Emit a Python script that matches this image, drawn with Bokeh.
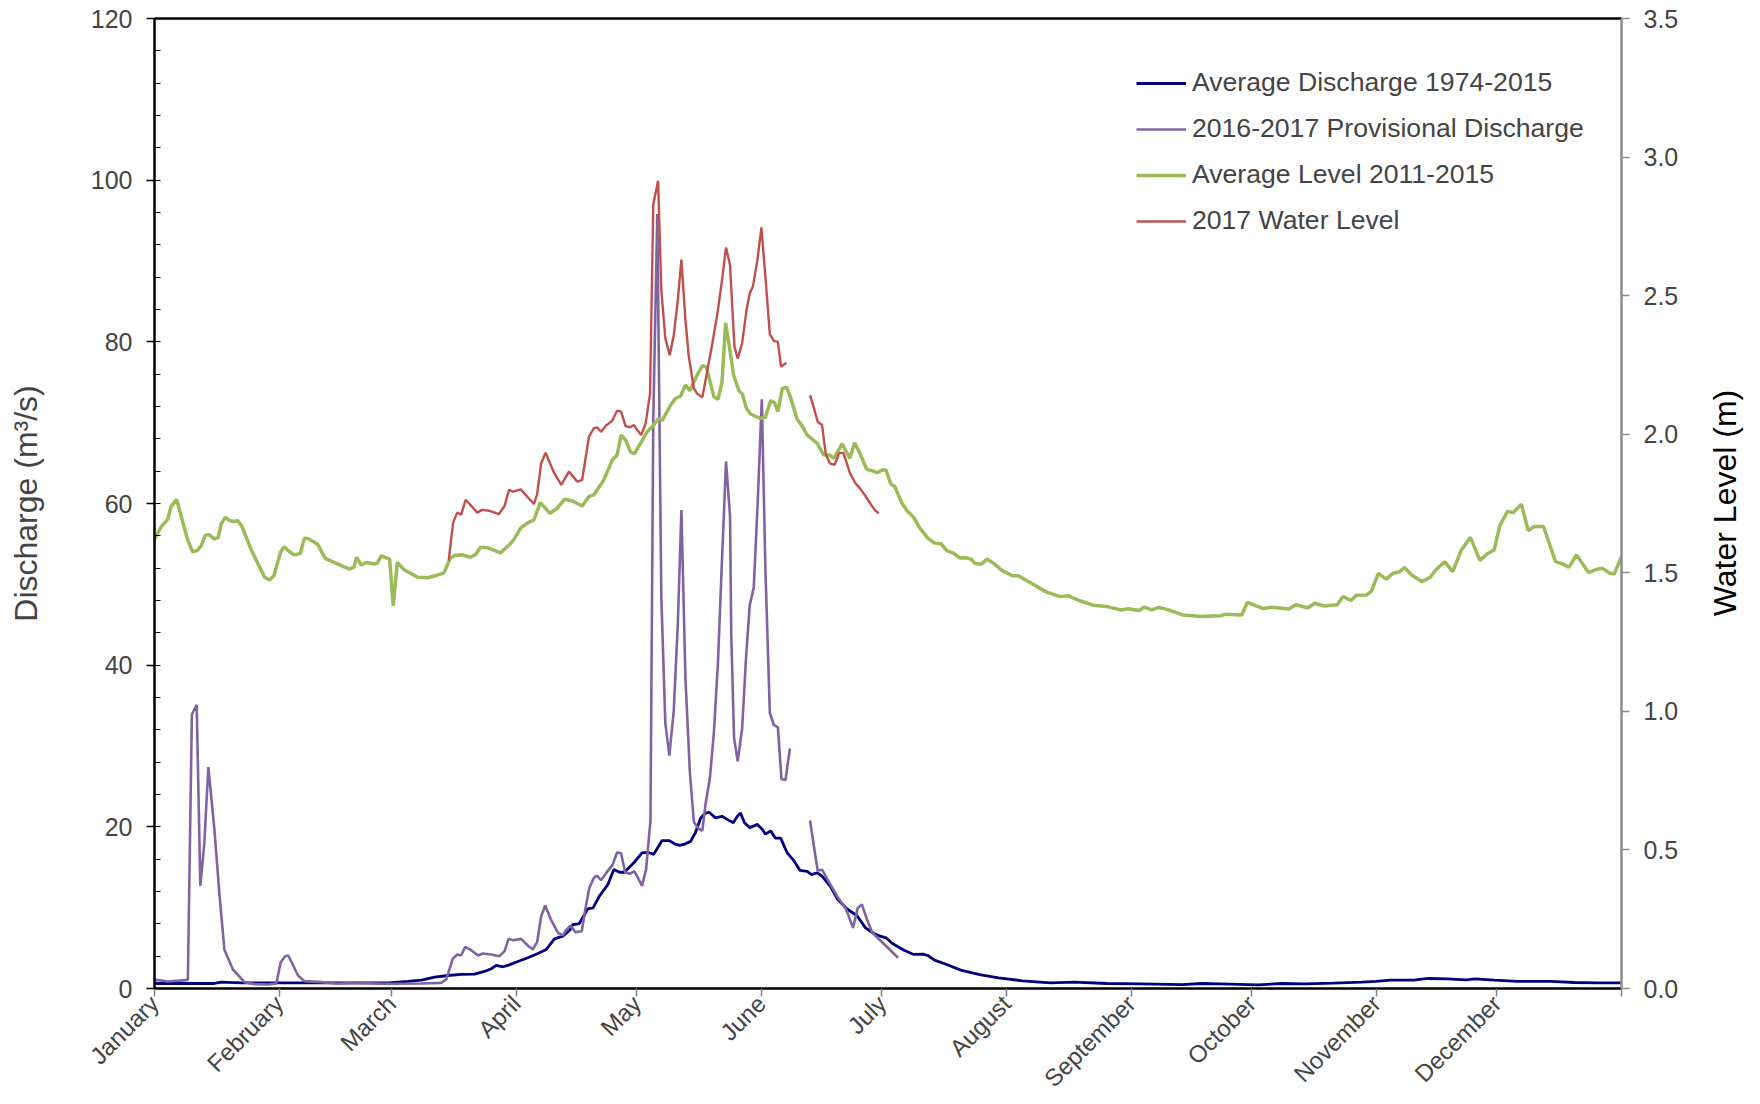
import math
from bokeh.plotting import figure
from bokeh.layouts import row
from bokeh.models import (Range1d, LinearAxis, FixedTicker, SingleIntervalTicker,
                          Legend, LegendItem, NumeralTickFormatter, Div)
from bokeh.embed import file_html
from bokeh.resources import INLINE

NaN = float("nan")

# ---------------- data (day of year, value) ----------------
month_names = ["January", "February", "March", "April", "May", "June", "July",
               "August", "September", "October", "November", "December"]
month_starts = [0, 31, 59, 90, 120, 151, 181, 212, 243, 273, 304, 334]

avg_q_day = [0, 8.3, 14.9, 16.6, 21.6, 33.2, 49.8, 58.1, 63.0, 66.4, 69.7, 73.0, 76.3, 79.6,
             82.1, 83.8, 85.0, 86.7, 87.9, 90.4, 92.9, 95.4, 97.5, 99.5, 101.6, 103.3, 104.1,
             105.7, 107.0, 107.8, 109.1, 110.7, 112.8, 114.3, 115.7, 116.9, 119.4, 121.3,
             122.8, 124.2, 126.3, 128.0, 129.4, 130.7, 132.1, 133.4, 134.6, 135.9, 137.1,
             138.0, 139.6, 141.2, 142.9, 144.0, 145.0, 145.8, 146.8, 148.1, 150.0, 151.2,
             152.0, 153.3, 154.5, 155.8, 157.4, 159.1, 160.6, 162.4, 163.4, 164.9, 166.1,
             168.2, 170.0, 172.4, 174.8, 176.9, 179.0, 180.6, 182.0, 183.6, 186.5, 188.9,
             191.2, 192.4, 194.1, 197.1, 200.6, 205.3, 210.0, 215.9, 222.9, 228.8, 237.0,
             245.2, 255.8, 260.5, 267.5, 274.6, 280.5, 286.3, 293.4, 300.4, 303.9, 307.5,
             313.3, 316.9, 321.6, 326.3, 328.6, 333.3, 339.2, 347.4, 353.3, 359.1, 365]
avg_q_val = [0.62, 0.62, 0.62, 0.79, 0.70, 0.70, 0.70, 0.70, 0.87, 1.04, 1.41, 1.61, 1.74, 1.78,
             2.11, 2.44, 2.85, 2.69, 2.85, 3.34, 3.80, 4.33, 4.83, 6.14, 6.47, 7.21, 7.91,
             8.04, 9.15, 9.85, 9.97, 11.42, 12.86, 14.71, 14.38, 14.38, 15.62, 16.77,
             16.85, 16.6, 18.3, 18.3, 17.9, 17.7, 17.9, 18.2, 19.3, 21.1, 21.7,
             21.8, 21.1, 21.3, 20.8, 20.5, 21.3, 21.7, 20.5, 19.9, 20.3, 19.7,
             19.1, 19.5, 18.6, 18.6, 16.8, 15.8, 14.6, 14.5, 14.1, 14.3, 13.9,
             12.6, 11.0, 9.8, 9.0, 7.5, 6.8, 6.47, 6.27, 5.57, 4.74, 4.21,
             4.25, 4.08, 3.51, 2.97, 2.27, 1.73, 1.32, 0.95, 0.70, 0.78, 0.62,
             0.58, 0.49, 0.62, 0.54, 0.45, 0.62, 0.58, 0.66, 0.78, 0.87, 1.03,
             1.03, 1.24, 1.19, 1.07, 1.19, 1.03, 0.87, 0.87, 0.74, 0.70, 0.70]

prov_q_day = [0, 3.3, 7.9, 8.3, 9.3, 10.5, 11.4, 12.4, 13.4, 14.9, 16.2, 17.4, 19.5, 22.4, 24.9,
              28.2, 30.3, 31.4, 32.5, 33.3, 35.7, 37.3, 41.5, 45.6, 49.8, 56.4, 59.7, 66.4,
              71.3, 72.6, 74.2, 75.3, 76.3, 77.3, 78.8, 80.5, 81.7, 83.8, 85.8, 87.1, 88.1,
              89.2, 91.2, 92.9, 94.1, 95.2, 96.2, 97.2, 98.7, 100.4, 101.6, 102.4, 103.5,
              104.7, 106.3, 107.2, 108.2, 109.3, 110.1, 111.1, 112.4, 114.0, 115.1, 116.1,
              117.1, 118.2, 119.4, 120.3, 121.3, 122.3, 123.4, 124.1, 125.1, 126.1, 127.1,
              128.1, 129.2, 130.2, 131.1, 132.1, 133.2, 134.2, 135.3, 136.3, 137.1, 138.2,
              139.2, 140.2, 141.1, 142.2, 143.2, 143.5, 144.2, 145.1, 146.2, 147.2, 148.1,
              149.1, 150.1, 151.1, 152.0, 153.1, 154.1, 155.1, 156.0, 157.0, 158.1, 160.5,
              163.1, 164.1, 165.0, 166.1, 168.0, 170.0, 172.0, 173.8, 175.0, 176.0, 177.3,
              178.6, 181.5, 185.0]
prov_q_val = [1.1, 0.87, 1.04, 1.12, 33.9, 35.1, 12.7, 18.0, 27.4, 19.7, 11.4, 4.8, 2.35, 0.79, 0.54,
              0.5, 0.62, 3.26, 4.0, 4.08, 1.61, 0.91, 0.79, 0.58, 0.7, 0.58, 0.58, 0.62,
              0.70, 1.12, 3.67, 4.21, 4.08, 5.15, 4.74, 4.08, 4.33, 4.21, 4.0, 4.62, 6.14,
              5.98, 6.14, 5.32, 4.83, 5.73, 8.94, 10.26, 8.45, 6.88, 6.56, 7.21, 7.79,
              6.97, 7.09, 9.85, 12.45, 13.68, 13.97, 13.39, 14.3, 15.33, 16.85, 16.69,
              14.38, 14.2, 14.5, 13.7, 12.7, 14.7, 20.8, 70.4, 95.8, 48.4, 32.8,
              28.8, 34.4, 45.1, 59.2, 38.4, 26.8, 20.6, 19.8, 19.5, 22.8, 26.1,
              31.8, 40.4, 51.8, 65.2, 58.4, 43.8, 31.0, 28.1, 32.1, 41.1, 47.4,
              49.6, 60.4, 72.9, 51.8, 34.1, 32.6, 32.3, 25.9, 25.8, 29.7, NaN,
              20.8, 17.5, 14.6, 14.7, 13.0, 11.3, 9.9, 7.5, 10.0, 10.4, 8.5,
              6.9, 5.5, 3.8]

avg_lvl_day = [0, 1.7, 3.3, 4.1, 5.5, 7.0, 8.3, 9.5, 10.6, 11.6, 12.6, 13.7, 14.8, 15.8, 16.6,
               17.6, 18.7, 19.7, 20.7, 21.7, 24.1, 25.7, 27.4, 28.6, 29.7, 31.4, 32.3, 33.6,
               34.8, 36.3, 37.3, 38.3, 40.5, 42.5, 44.8, 48.5, 49.6, 50.3, 51.4, 52.7, 54.7,
               55.4, 56.4, 58.5, 59.4, 60.4, 62.2, 65.5, 68.0, 70.0, 72.0, 73.6, 74.6, 76.5,
               78.6, 79.9, 81.1, 83.0, 86.1, 88.2, 89.4, 91.1, 92.7, 94.4, 96.0, 98.4, 100.2,
               102.0, 103.9, 106.4, 108.1, 109.3, 111.8, 113.9, 115.1, 116.1, 117.2, 118.4,
               119.4, 120.9, 122.6, 124.4, 125.5, 126.3, 128.4, 129.6, 130.9, 132.1, 133.2,
               135.0, 136.3, 137.3, 139.2, 140.2, 141.2, 142.1, 142.9, 144.1, 145.4, 146.2,
               147.3, 148.3, 149.8, 150.8, 152.0, 153.3, 154.3, 155.1, 156.2, 157.3, 158.2,
               159.9, 161.1, 162.4, 164.9, 166.5, 168.0, 169.0, 171.1, 173.0, 174.2, 175.7,
               177.2, 178.6, 179.8, 181.1, 182.0, 183.2, 184.2, 185.9, 187.3, 188.9, 190.3,
               192.4, 194.1, 195.7, 197.1, 198.8, 200.4, 202.0, 203.2, 204.1, 205.7, 207.2,
               208.8, 210.9, 213.5, 214.9, 218.2, 221.7, 225.3, 227.4, 230.0, 233.5, 237.0,
               240.5, 242.3, 245.0, 246.2, 248.2, 249.9, 251.7, 255.8, 260.5, 265.2, 266.4,
               270.5, 271.9, 275.8, 278.1, 282.2, 284.0, 286.9, 288.7, 291.0, 294.3, 295.7,
               297.7, 299.0, 301.6, 302.8, 304.5, 306.5, 308.1, 309.8, 311.0, 312.8, 315.4,
               317.4, 319.0, 321.0, 323.0, 325.1, 327.4, 329.8, 331.5, 333.3, 334.7, 336.6,
               338.0, 340.1, 341.8, 343.3, 345.6, 348.6, 350.3, 351.9, 353.8, 356.8, 358.9,
               360.3, 362.1, 363.2, 365]
avg_lvl_val = [1.621, 1.667, 1.693, 1.739, 1.765, 1.685, 1.616, 1.576, 1.580, 1.597, 1.635, 1.637,
               1.623, 1.626, 1.676, 1.700, 1.688, 1.685, 1.688, 1.669, 1.582, 1.534, 1.484, 1.474,
               1.489, 1.576, 1.594, 1.576, 1.564, 1.570, 1.625, 1.623, 1.604, 1.552, 1.537, 1.513,
               1.520, 1.556, 1.528, 1.537, 1.532, 1.534, 1.561, 1.549, 1.381, 1.537, 1.510, 1.484,
               1.482, 1.490, 1.500, 1.552, 1.562, 1.565, 1.556, 1.566, 1.592, 1.590, 1.572, 1.600,
               1.620, 1.661, 1.679, 1.691, 1.753, 1.715, 1.733, 1.765, 1.760, 1.741, 1.775, 1.781,
               1.835, 1.907, 1.925, 1.997, 1.979, 1.937, 1.929, 1.967, 2.009, 2.037, 2.057, 2.049,
               2.105, 2.129, 2.138, 2.177, 2.157, 2.213, 2.247, 2.243, 2.135, 2.126, 2.189, 2.402,
               2.328, 2.213, 2.157, 2.147, 2.093, 2.073, 2.063, 2.057, 2.061, 2.121, 2.114, 2.081,
               2.165, 2.169, 2.135, 2.054, 2.030, 1.997, 1.967, 1.925, 1.925, 1.913, 1.965, 1.913,
               1.969, 1.925, 1.873, 1.868, 1.861, 1.871, 1.871, 1.820, 1.811, 1.753, 1.723, 1.700,
               1.664, 1.625, 1.607, 1.605, 1.580, 1.571, 1.553, 1.554, 1.549, 1.534, 1.531, 1.549,
               1.534, 1.508, 1.489, 1.489, 1.462, 1.432, 1.414, 1.417, 1.400, 1.383, 1.378, 1.366,
               1.370, 1.364, 1.376, 1.366, 1.375, 1.369, 1.348, 1.342, 1.345, 1.350, 1.348, 1.393,
               1.371, 1.376, 1.369, 1.385, 1.373, 1.390, 1.380, 1.385, 1.414, 1.400, 1.419, 1.420,
               1.434, 1.498, 1.477, 1.498, 1.504, 1.519, 1.492, 1.468, 1.484, 1.513, 1.540, 1.504,
               1.580, 1.628, 1.544, 1.568, 1.582, 1.669, 1.721, 1.717, 1.747, 1.652, 1.667, 1.667,
               1.540, 1.532, 1.520, 1.564, 1.501, 1.513, 1.516, 1.498, 1.496, 1.558]

lvl17_day = [73.2, 74.3, 75.3, 76.3, 77.4, 78.6, 80.3, 81.5, 83.2, 85.7, 87.1, 88.2, 89.2, 91.1,
             94.4, 95.2, 96.2, 97.3, 99.4, 101.2, 103.1, 105.2, 106.4, 108.1, 109.3, 110.1,
             111.1, 112.2, 113.9, 115.1, 116.1, 117.2, 118.3, 119.3, 120.1, 121.1, 122.2,
             123.3, 124.1, 125.3, 126.1, 127.1, 128.2, 129.2, 130.2, 131.1, 132.1, 132.9,
             134.2, 135.0, 136.3, 137.5, 138.8, 140.0, 141.1, 142.2, 143.2, 143.7, 144.3,
             145.1, 146.2, 147.3, 148.1, 148.9, 150.0, 151.0, 152.0, 153.1, 154.1, 155.1,
             155.9, 157.2, 160.0, 163.1, 164.1, 165.0, 166.1, 167.0, 168.0, 169.2, 170.3,
             171.4, 173.0, 174.4, 175.7, 176.9, 178.3, 179.4, 180.2]
lvl17_val = [1.544, 1.681, 1.717, 1.710, 1.763, 1.745, 1.717, 1.727, 1.724, 1.712, 1.741, 1.799,
             1.793, 1.801, 1.748, 1.784, 1.895, 1.933, 1.861, 1.817, 1.865, 1.829, 1.835, 1.991,
             2.021, 2.025, 2.009, 2.029, 2.049, 2.085, 2.081, 2.029, 2.025, 2.033, 2.015, 1.997,
             2.039, 2.147, 2.830, 2.914, 2.520, 2.346, 2.285, 2.358, 2.484, 2.630, 2.412, 2.285,
             2.165, 2.147, 2.133, 2.225, 2.328, 2.430, 2.544, 2.674, 2.610, 2.472, 2.316, 2.273,
             2.328, 2.448, 2.508, 2.534, 2.628, 2.746, 2.568, 2.361, 2.337, 2.333, 2.243, 2.258,
             NaN, 2.141, 2.093, 2.045, 2.033, 1.929, 1.895, 1.889, 1.931, 1.933, 1.861, 1.823,
             1.801, 1.777, 1.745, 1.724, 1.715]

series_labels = ["Average Discharge 1974-2015", "2016-2017 Provisional Discharge",
                 "Average Level 2011-2015", "2017 Water Level"]
left_title = "Discharge (m³/s)"
right_title = "Water Level (m)"

# ---------------- figure ----------------
FONT = "Liberation Sans"

p = figure(width=1700, height=1104, output_backend="svg", toolbar_location=None,
           x_range=Range1d(0, 365), y_range=Range1d(0, 120),
           min_border_left=154, min_border_right=79, min_border_top=18,
           min_border_bottom=115, background_fill_color="white",
           border_fill_color="white")
p.outline_line_color = None
p.xgrid.visible = False
p.ygrid.visible = False
p.extra_y_ranges = {"level": Range1d(0, 3.5)}

# left axis
ya = p.yaxis[0]
ya.ticker = SingleIntervalTicker(interval=20, num_minor_ticks=5)
ya.axis_label = left_title
ya.axis_label_text_font = FONT
ya.axis_label_text_font_style = "normal"
ya.axis_label_text_font_size = "32px"
ya.axis_label_standoff = 44
ya.major_label_text_font = FONT
ya.major_label_text_font_size = "25px"
ya.major_label_standoff = 14
ya.axis_line_width = 2.5
ya.axis_line_color = "black"
ya.major_tick_out = 8
ya.major_tick_in = 0
ya.major_tick_line_width = 1.5
ya.minor_tick_in = 6
ya.minor_tick_out = 0
ya.minor_tick_line_width = 1.2
ya.minor_tick_line_color = "black"

# bottom axis
xa = p.xaxis[0]
xa.ticker = FixedTicker(ticks=month_starts + [365])
overrides = {m: n for m, n in zip(month_starts, month_names)}
overrides[365] = ""
xa.major_label_overrides = overrides
xa.major_label_orientation = math.pi / 4
xa.major_label_text_font = FONT
xa.major_label_text_font_size = "24px"
xa.major_label_standoff = 3
xa.axis_line_width = 2.5
xa.axis_line_color = "black"
xa.major_tick_out = 8
xa.major_tick_in = 0
xa.major_tick_line_color = "#808080"
xa.major_tick_line_width = 1.5
xa.minor_tick_line_color = None

# right axis (line, ticks, tick labels)
ra = LinearAxis(y_range_name="level",
                ticker=SingleIntervalTicker(interval=0.5, num_minor_ticks=0),
                formatter=NumeralTickFormatter(format="0.0"))
ra.major_label_text_font = FONT
ra.major_label_text_font_size = "25px"
ra.major_label_standoff = 14
ra.axis_line_width = 2.5
ra.axis_line_color = "#8c8c8c"
ra.major_tick_out = 8
ra.major_tick_in = 0
ra.major_tick_line_color = "#8c8c8c"
ra.major_tick_line_width = 1.5
ra.minor_tick_line_color = None
p.add_layout(ra, "right")

# top border line
ta = LinearAxis(ticker=FixedTicker(ticks=[]))
ta.axis_line_width = 2.5
ta.axis_line_color = "black"
ta.major_label_text_font_size = "0px"
ta.major_tick_line_color = None
ta.minor_tick_line_color = None
p.add_layout(ta, "above")

# ---------------- series ----------------
r_blue = p.line(avg_q_day, avg_q_val, line_color="#000080", line_width=2.8)
r_purple = p.line(prov_q_day, prov_q_val, line_color="#8064A2", line_width=2.6)
r_green = p.line(avg_lvl_day, avg_lvl_val, line_color="#9BBB59", line_width=3.5,
                 y_range_name="level")
r_red = p.line(lvl17_day, lvl17_val, line_color="#C0504D", line_width=2.4,
               y_range_name="level")

legend = Legend(items=[LegendItem(label=series_labels[0], renderers=[r_blue]),
                       LegendItem(label=series_labels[1], renderers=[r_purple]),
                       LegendItem(label=series_labels[2], renderers=[r_green]),
                       LegendItem(label=series_labels[3], renderers=[r_red])],
                location=(982, 752), orientation="vertical",
                border_line_color=None, background_fill_alpha=0,
                padding=0, margin=0, spacing=15, glyph_width=50, glyph_height=30,
                label_height=30, label_standoff=6, label_text_font=FONT,
                label_text_font_size="26.6px")
p.add_layout(legend)

# right-hand axis title, reading bottom-to-top, in a narrow strip beside the plot
title_html = ('<div style="position:relative;width:60px;height:1104px;">'
              '<div style="position:absolute;left:25px;top:503px;'
              'transform:translate(-50%,-50%) rotate(-90deg);white-space:nowrap;'
              "font-family:'Liberation Sans';font-size:32px;color:black;"
              'line-height:1;">' + right_title + '</div></div>')
right_div = Div(text=title_html, width=60, height=1104, margin=0)

layout = row(p, right_div, spacing=0)

open("out.html", "w").write(file_html(layout, INLINE))
